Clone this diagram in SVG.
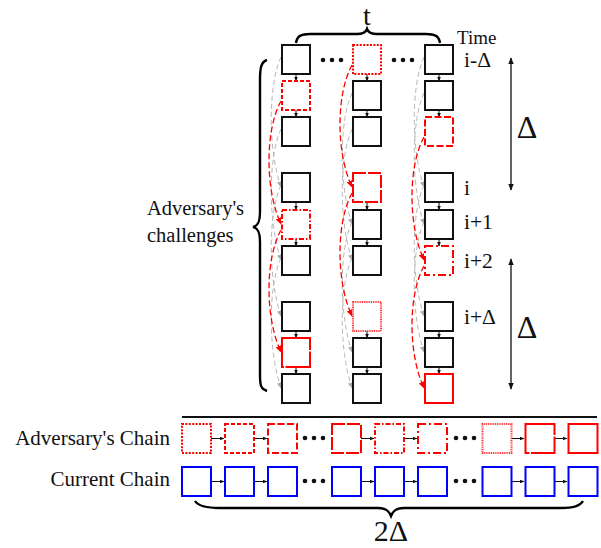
<svg xmlns="http://www.w3.org/2000/svg" width="601" height="548" viewBox="0 0 601 548">
<style>
text{font-family:"Liberation Serif","Times New Roman",serif;fill:#111}
.b{fill:#fff;stroke:#111;stroke-width:2}
.r{fill:#fff;stroke:#f00;stroke-width:2}
.r1{stroke-dasharray:2 1.4}
.r2{stroke-dasharray:4 2}
.r3{stroke-dasharray:7 2.5}
.r4{stroke-dasharray:13 2}
.r5{stroke-dasharray:5 2 1.5 2}
.r6{stroke-dasharray:8 3 2 3}
.r7{stroke-dasharray:1 0.8;stroke:#f33}
.r8{stroke-dasharray:40 1.5}
.bl{fill:#fff;stroke:#00f;stroke-width:2}
.g{fill:none;stroke:#b8b8b8;stroke-width:1;stroke-dasharray:5 3;marker-end:url(#ag)}
.rd{fill:none;stroke:#f00;stroke-width:1.3;stroke-dasharray:6 3;marker-end:url(#ar)}
.k{stroke:#111;stroke-width:1;marker-end:url(#ak)}
.brace{fill:none;stroke:#000;stroke-width:2.4}
.dot{fill:#111}
</style>
<defs>
<marker id="ag" viewBox="0 0 10 10" refX="9" refY="5" markerWidth="6" markerHeight="6" markerUnits="userSpaceOnUse" orient="auto"><path d="M0,1 L10,5 L0,9 z" fill="#aaa"/></marker>
<marker id="ar" viewBox="0 0 10 10" refX="9" refY="5" markerWidth="7" markerHeight="7" markerUnits="userSpaceOnUse" orient="auto"><path d="M0,1 L10,5 L0,9 z" fill="#f00"/></marker>
<marker id="ak" viewBox="0 0 10 10" refX="9" refY="5" markerWidth="5" markerHeight="5" markerUnits="userSpaceOnUse" orient="auto"><path d="M0,1 L10,5 L0,9 z" fill="#111"/></marker>
<marker id="ad" viewBox="0 0 10 10" refX="9" refY="5" markerWidth="7" markerHeight="7" markerUnits="userSpaceOnUse" orient="auto-start-reverse"><path d="M0,1 L10,5 L0,9 z" fill="#111"/></marker>
</defs>

<g id="connectors">
<path class="g" d="M281,57 C268,85 268,150 281,187"/>
<path class="g" d="M281,129 C268,157 268,222 281,260"/>
<path class="g" d="M281,185 C268,213 268,278 281,316"/>
<path class="g" d="M281,258 C268,286 268,350 281,388"/>
<path class="rd" d="M281,101 C265,130 265,190 281,224"/>
<path class="rd" d="M281,230 C265,259 265,318 281,352"/>
<path class="g" d="M352,93 C339,121 339,186 352,224"/>
<path class="g" d="M352,129 C339,157 339,222 352,260"/>
<path class="g" d="M352,222 C339,250 339,314 352,352"/>
<path class="g" d="M352,258 C339,286 339,350 352,388"/>
<path class="rd" d="M352,65 C336,94 336,153 352,187"/>
<path class="rd" d="M352,193 C336,222 336,282 352,316"/>
<path class="g" d="M424,57 C411,85 411,150 424,187"/>
<path class="g" d="M424,93 C411,121 411,186 424,224"/>
<path class="g" d="M424,185 C411,213 411,278 424,316"/>
<path class="g" d="M424,222 C411,250 411,314 424,352"/>
<path class="rd" d="M424,137 C408,166 408,226 424,260"/>
<path class="rd" d="M424,266 C408,295 408,354 424,388"/>
<line class="k" x1="296" y1="74" x2="296" y2="81"/>
<line class="k" x1="296" y1="110" x2="296" y2="117"/>
<line class="k" x1="296" y1="202" x2="296" y2="210"/>
<line class="k" x1="296" y1="239" x2="296" y2="246"/>
<line class="k" x1="296" y1="331" x2="296" y2="338"/>
<line class="k" x1="296" y1="367" x2="296" y2="374"/>
<line class="k" x1="367" y1="74" x2="367" y2="81"/>
<line class="k" x1="367" y1="110" x2="367" y2="117"/>
<line class="k" x1="367" y1="202" x2="367" y2="210"/>
<line class="k" x1="367" y1="239" x2="367" y2="246"/>
<line class="k" x1="367" y1="331" x2="367" y2="338"/>
<line class="k" x1="367" y1="367" x2="367" y2="374"/>
<line class="k" x1="439" y1="74" x2="439" y2="81"/>
<line class="k" x1="439" y1="110" x2="439" y2="117"/>
<line class="k" x1="439" y1="202" x2="439" y2="210"/>
<line class="k" x1="439" y1="239" x2="439" y2="246"/>
<line class="k" x1="439" y1="331" x2="439" y2="338"/>
<line class="k" x1="439" y1="367" x2="439" y2="374"/>
<line class="k" x1="211" y1="438.5" x2="224" y2="438.5"/>
<line class="k" x1="254" y1="438.5" x2="267" y2="438.5"/>
<line class="k" x1="361" y1="438.5" x2="374" y2="438.5"/>
<line class="k" x1="404" y1="438.5" x2="417" y2="438.5"/>
<line class="k" x1="511" y1="438.5" x2="524" y2="438.5"/>
<line class="k" x1="554" y1="438.5" x2="567" y2="438.5"/>
<line class="k" x1="211" y1="481.5" x2="224" y2="481.5"/>
<line class="k" x1="254" y1="481.5" x2="267" y2="481.5"/>
<line class="k" x1="361" y1="481.5" x2="374" y2="481.5"/>
<line class="k" x1="404" y1="481.5" x2="417" y2="481.5"/>
<line class="k" x1="511" y1="481.5" x2="524" y2="481.5"/>
<line class="k" x1="554" y1="481.5" x2="567" y2="481.5"/>
<line x1="511" y1="58" x2="511" y2="190" stroke="#111" stroke-width="1.3" marker-start="url(#ad)" marker-end="url(#ad)"/>
<line x1="511" y1="259" x2="511" y2="389" stroke="#111" stroke-width="1.3" marker-start="url(#ad)" marker-end="url(#ad)"/>
</g>

<g id="c1a"><rect class="b" x="282" y="45" width="28" height="29"/></g>
<g id="c1b"><rect class="r r2" x="282" y="81" width="28" height="29"/></g>
<g id="c1c"><rect class="b" x="282" y="117" width="28" height="29"/></g>
<g id="c1d"><rect class="b" x="282" y="173" width="28" height="29"/></g>
<g id="c1e"><rect class="r r5" x="282" y="210" width="28" height="29"/></g>
<g id="c1f"><rect class="b" x="282" y="246" width="28" height="29"/></g>
<g id="c1g"><rect class="b" x="282" y="302" width="28" height="29"/></g>
<g id="c1h"><rect class="r r8" x="282" y="338" width="28" height="29"/></g>
<g id="c1i"><rect class="b" x="282" y="374" width="28" height="29"/></g>
<g id="c2a"><rect class="r r1" x="353" y="45" width="28" height="29"/></g>
<g id="c2b"><rect class="b" x="353" y="81" width="28" height="29"/></g>
<g id="c2c"><rect class="b" x="353" y="117" width="28" height="29"/></g>
<g id="c2d"><rect class="r r4" x="353" y="173" width="28" height="29"/></g>
<g id="c2e"><rect class="b" x="353" y="210" width="28" height="29"/></g>
<g id="c2f"><rect class="b" x="353" y="246" width="28" height="29"/></g>
<g id="c2g"><rect class="r r7" x="353" y="302" width="28" height="29"/></g>
<g id="c2h"><rect class="b" x="353" y="338" width="28" height="29"/></g>
<g id="c2i"><rect class="b" x="353" y="374" width="28" height="29"/></g>
<g id="c3a"><rect class="b" x="425" y="45" width="28" height="29"/></g>
<g id="c3b"><rect class="b" x="425" y="81" width="28" height="29"/></g>
<g id="c3c"><rect class="r r3" x="425" y="117" width="28" height="29"/></g>
<g id="c3d"><rect class="b" x="425" y="173" width="28" height="29"/></g>
<g id="c3e"><rect class="b" x="425" y="210" width="28" height="29"/></g>
<g id="c3f"><rect class="r r6" x="425" y="246" width="28" height="29"/></g>
<g id="c3g"><rect class="b" x="425" y="302" width="28" height="29"/></g>
<g id="c3h"><rect class="b" x="425" y="338" width="28" height="29"/></g>
<g id="c3i"><rect class="r" x="425" y="374" width="28" height="29"/></g>

<g id="dots-top">
<circle class="dot" cx="323" cy="60" r="2.3"/><circle class="dot" cx="332" cy="60" r="2.3"/><circle class="dot" cx="341" cy="60" r="2.3"/>
<circle class="dot" cx="394" cy="60" r="2.3"/><circle class="dot" cx="403" cy="60" r="2.3"/><circle class="dot" cx="412" cy="60" r="2.3"/>
</g>

<g id="brace-t">
<path class="brace" d="M296,43 C297,36 301,34 310,34 L357,34 C363,34 366,32 367,29 C368,32 371,34 377,34 L426,34 C435,34 439,36 440,43"/>
<text x="367" y="25" font-size="28" text-anchor="middle">t</text>
</g>

<g id="brace-left">
<path class="brace" d="M267,60 C261,62 260,68 260,80 L260,212 C260,222 258,226 253,227 C258,228 260,232 260,242 L260,375 C260,386 261,389 267,391"/>
<text x="147" y="215" font-size="20.5">Adversary's</text>
<text x="147" y="241.5" font-size="20.5">challenges</text>
</g>

<g id="time-labels">
<text x="457" y="44" font-size="19">Time</text>
<text x="464" y="67" font-size="21.5">i-Δ</text>
<text x="464" y="195" font-size="21.5">i</text>
<text x="464" y="229" font-size="21.5">i+1</text>
<text x="464" y="268" font-size="21.5">i+2</text>
<text x="464" y="324" font-size="21.5">i+Δ</text>
<text x="527" y="138" font-size="32" text-anchor="middle">Δ</text>
<text x="527" y="338" font-size="32" text-anchor="middle">Δ</text>
</g>

<line x1="182" y1="417" x2="597" y2="417" stroke="#111" stroke-width="2"/>

<g id="chain-labels">
<text x="170" y="444.5" font-size="21" text-anchor="end">Adversary's Chain</text>
<text x="170" y="486" font-size="21" text-anchor="end">Current Chain</text>
</g>

<g id="a1"><rect class="r r1" x="182" y="424" width="29" height="29"/></g>
<g id="a2"><rect class="r r2" x="225" y="424" width="29" height="29"/></g>
<g id="a3"><rect class="r r3" x="268" y="424" width="29" height="29"/></g>
<g id="a4"><rect class="r r4" x="332" y="424" width="29" height="29"/></g>
<g id="a5"><rect class="r r5" x="375" y="424" width="29" height="29"/></g>
<g id="a6"><rect class="r r6" x="418" y="424" width="29" height="29"/></g>
<g id="a7"><rect class="r r7" x="482.5" y="424" width="29" height="29"/></g>
<g id="a8"><rect class="r r8" x="525.5" y="424" width="29" height="29"/></g>
<g id="a9"><rect class="r" x="568.5" y="424" width="29" height="29"/></g>
<g id="b1"><rect class="bl" x="182" y="467" width="29" height="29"/></g>
<g id="b2"><rect class="bl" x="225" y="467" width="29" height="29"/></g>
<g id="b3"><rect class="bl" x="268" y="467" width="29" height="29"/></g>
<g id="b4"><rect class="bl" x="332" y="467" width="29" height="29"/></g>
<g id="b5"><rect class="bl" x="375" y="467" width="29" height="29"/></g>
<g id="b6"><rect class="bl" x="418" y="467" width="29" height="29"/></g>
<g id="b7"><rect class="bl" x="482.5" y="467" width="29" height="29"/></g>
<g id="b8"><rect class="bl" x="525.5" y="467" width="29" height="29"/></g>
<g id="b9"><rect class="bl" x="568.5" y="467" width="29" height="29"/></g>

<g id="dots-chain">
<circle class="dot" cx="305" cy="438" r="2.3"/><circle class="dot" cx="314" cy="438" r="2.3"/><circle class="dot" cx="323" cy="438" r="2.3"/>
<circle class="dot" cx="456" cy="438" r="2.3"/><circle class="dot" cx="465" cy="438" r="2.3"/><circle class="dot" cx="474" cy="438" r="2.3"/>
<circle class="dot" cx="305" cy="481" r="2.3"/><circle class="dot" cx="314" cy="481" r="2.3"/><circle class="dot" cx="323" cy="481" r="2.3"/>
<circle class="dot" cx="456" cy="481" r="2.3"/><circle class="dot" cx="465" cy="481" r="2.3"/><circle class="dot" cx="474" cy="481" r="2.3"/>
</g>

<g id="brace-bottom">
<path class="brace" d="M195,501 C198,506 205,508 220,508 L378,508 C386,508 389,511 391,516 C393,511 396,508 404,508 L560,508 C574,508 580,506 583,501"/>
<text x="391" y="541" font-size="30" text-anchor="middle">2Δ</text>
</g>
</svg>
